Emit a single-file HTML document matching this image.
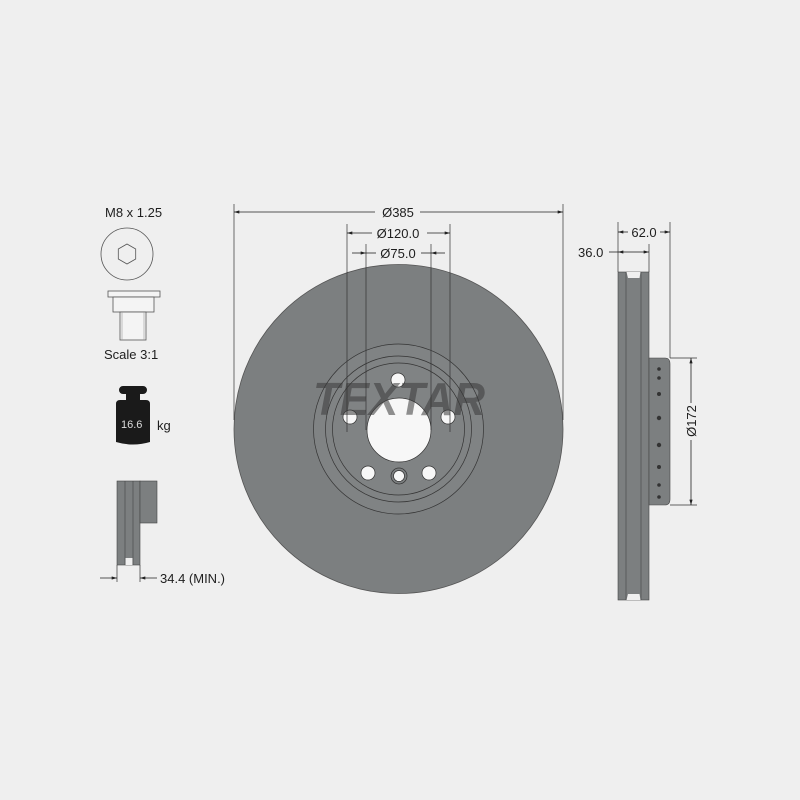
<!DOCTYPE html>
<html><head><meta charset="utf-8"><style>
html,body{margin:0;padding:0;background:#efefef;}
svg{display:block;}
text{font-family:"Liberation Sans",Arial,sans-serif;fill:#1e1e1e;}
</style></head><body>
<svg width="800" height="800" viewBox="0 0 800 800" xmlns="http://www.w3.org/2000/svg">
<defs>
<marker id="a" viewBox="0 0 10 6" refX="10" refY="3" markerWidth="8" markerHeight="4" orient="auto-start-reverse"><path d="M0,0 L10,3 L0,6z" fill="#222"/></marker>
</defs>
<rect width="800" height="800" fill="#efefef"/>

<!-- left panel -->
<text x="105" y="217" font-size="13">M8 x 1.25</text>
<circle cx="127" cy="254" r="26" fill="none" stroke="#555" stroke-width="0.8"/>
<polygon points="127,244 135.7,249 135.7,259 127,264 118.3,259 118.3,249" fill="none" stroke="#555" stroke-width="0.8"/>
<rect x="108" y="291" width="52" height="6" fill="#f4f4f4" stroke="#555" stroke-width="0.8"/>
<rect x="113" y="297" width="41" height="15" fill="#f4f4f4" stroke="#555" stroke-width="0.8"/>
<rect x="120" y="312" width="26" height="28" fill="#f4f4f4" stroke="#555" stroke-width="0.8"/>
<line x1="122" y1="312" x2="122" y2="340" stroke="#999" stroke-width="0.6"/>
<line x1="144" y1="312" x2="144" y2="340" stroke="#999" stroke-width="0.6"/>
<text x="104" y="359" font-size="13">Scale 3:1</text>
<path d="M124,386 h19 a3,3 0 0 1 0,8 h-3 v6 h6 q4,0 4,4 v38 q-17,5 -34,0 v-38 q0,-4 4,-4 h6 v-6 h-3 a3,3 0 0 1 0,-8z" fill="#1a1a1a"/>
<text x="121" y="428" font-size="11" style="fill:#ddd">16.6</text>
<text x="157" y="430" font-size="13">kg</text>
<rect x="117" y="481" width="23" height="84" fill="#7c7f80" stroke="#444" stroke-width="0.6"/>
<rect x="140" y="481" width="17" height="42" fill="#7c7f80" stroke="#444" stroke-width="0.6"/>
<line x1="125" y1="481" x2="125" y2="565" stroke="#444" stroke-width="0.6"/>
<line x1="133" y1="481" x2="133" y2="565" stroke="#444" stroke-width="0.6"/>
<rect x="125.5" y="558" width="7" height="7" fill="#efefef"/>
<line x1="117" y1="565" x2="117" y2="582" stroke="#333" stroke-width="0.7"/>
<line x1="140" y1="565" x2="140" y2="582" stroke="#333" stroke-width="0.7"/>
<line x1="100" y1="578" x2="117" y2="578" stroke="#222" stroke-width="0.8" marker-end="url(#a)"/>
<line x1="157" y1="578" x2="140" y2="578" stroke="#222" stroke-width="0.8" marker-end="url(#a)"/>
<text x="160" y="583" font-size="13">34.4 (MIN.)</text>

<!-- disc -->
<circle cx="398.5" cy="429" r="164.5" fill="#7c7f80" stroke="#555" stroke-width="0.8"/>
<circle cx="398.5" cy="429" r="85" fill="#808384" stroke="#333" stroke-width="0.7"/>
<circle cx="398.5" cy="429" r="73" fill="none" stroke="#333" stroke-width="0.7"/>
<circle cx="398.5" cy="429" r="66" fill="none" stroke="#333" stroke-width="0.7"/>
<circle cx="399" cy="430" r="32" fill="#f7f7f7" stroke="#333" stroke-width="0.7"/>
<g fill="#f7f7f7" stroke="#333" stroke-width="0.7">
<circle cx="398" cy="380" r="7"/>
<circle cx="350" cy="417" r="7"/>
<circle cx="448" cy="417" r="7"/>
<circle cx="368" cy="473" r="7"/>
<circle cx="429" cy="473" r="7"/>
<circle cx="399" cy="476" r="8" fill="#7c7f80"/>
<circle cx="399" cy="476" r="5.5"/>
</g>
<text x="313" y="415" font-size="46" font-weight="bold" font-style="italic" textLength="172" lengthAdjust="spacingAndGlyphs" style="fill:#3a3a3a;opacity:0.55">TEXTAR</text>

<!-- top dims -->
<g stroke="#333" stroke-width="0.7">
<line x1="234" y1="204" x2="234" y2="420"/>
<line x1="563" y1="204" x2="563" y2="420"/>
<line x1="347" y1="224" x2="347" y2="432"/>
<line x1="450" y1="224" x2="450" y2="432"/>
<line x1="366" y1="244" x2="366" y2="430"/>
<line x1="431" y1="244" x2="431" y2="430"/>
</g>
<g stroke="#222" stroke-width="0.8">
<line x1="375" y1="212" x2="234" y2="212" marker-end="url(#a)"/>
<line x1="420" y1="212" x2="563" y2="212" marker-end="url(#a)"/>
<line x1="372" y1="233" x2="347" y2="233" marker-end="url(#a)"/>
<line x1="427" y1="233" x2="450" y2="233" marker-end="url(#a)"/>
<line x1="352" y1="253" x2="366" y2="253" marker-end="url(#a)"/>
<line x1="445" y1="253" x2="431" y2="253" marker-end="url(#a)"/>
<line x1="366" y1="253" x2="376" y2="253"/>
<line x1="421" y1="253" x2="431" y2="253"/>
</g>
<text x="398" y="217" font-size="13" text-anchor="middle">Ø385</text>
<text x="398" y="238" font-size="13" text-anchor="middle">Ø120.0</text>
<text x="398" y="258" font-size="13" text-anchor="middle">Ø75.0</text>

<!-- side view -->
<rect x="618" y="272" width="31" height="328" fill="#7c7f80" stroke="#444" stroke-width="0.6"/>
<line x1="626" y1="272" x2="626" y2="600" stroke="#444" stroke-width="0.6"/>
<line x1="641" y1="272" x2="641" y2="600" stroke="#444" stroke-width="0.6"/>
<path d="M626.5,272 L628,278 L639.5,278 L640.5,272z" fill="#efefef"/>
<path d="M626.5,600 L628,594 L639.5,594 L640.5,600z" fill="#efefef"/>
<path d="M649,358 H665 Q670,358 670,364 V499 Q670,505 665,505 H649z" fill="#7c7f80" stroke="#444" stroke-width="0.6"/>
<g fill="#333">
<circle cx="659" cy="369" r="1.8"/><circle cx="659" cy="378" r="1.8"/><circle cx="659" cy="394" r="2"/><circle cx="659" cy="418" r="2.2"/><circle cx="659" cy="445" r="2.2"/><circle cx="659" cy="467" r="2"/><circle cx="659" cy="485" r="1.8"/><circle cx="659" cy="497" r="1.8"/>
</g>
<g stroke="#333" stroke-width="0.7">
<line x1="618" y1="222" x2="618" y2="272"/>
<line x1="670" y1="222" x2="670" y2="358"/>
<line x1="649" y1="244" x2="649" y2="272"/>
<line x1="670" y1="358" x2="697" y2="358"/>
<line x1="670" y1="505" x2="697" y2="505"/>
</g>
<g stroke="#222" stroke-width="0.8">
<line x1="628" y1="232" x2="618" y2="232" marker-end="url(#a)"/>
<line x1="660" y1="232" x2="670" y2="232" marker-end="url(#a)"/>
<line x1="609" y1="252" x2="618" y2="252"/>
<line x1="633" y1="252" x2="618" y2="252" marker-end="url(#a)"/>
<line x1="633" y1="252" x2="649" y2="252" marker-end="url(#a)"/>
<line x1="691" y1="403" x2="691" y2="358" marker-end="url(#a)"/>
<line x1="691" y1="440" x2="691" y2="505" marker-end="url(#a)"/>
</g>
<rect x="630" y="224" width="30" height="16" fill="#efefef"/>
<text x="644" y="237" font-size="13" text-anchor="middle">62.0</text>
<text x="578" y="257" font-size="13">36.0</text>
<text x="0" y="0" font-size="13" text-anchor="middle" transform="translate(696,421) rotate(-90)">Ø172</text>
</svg>
</body></html>
